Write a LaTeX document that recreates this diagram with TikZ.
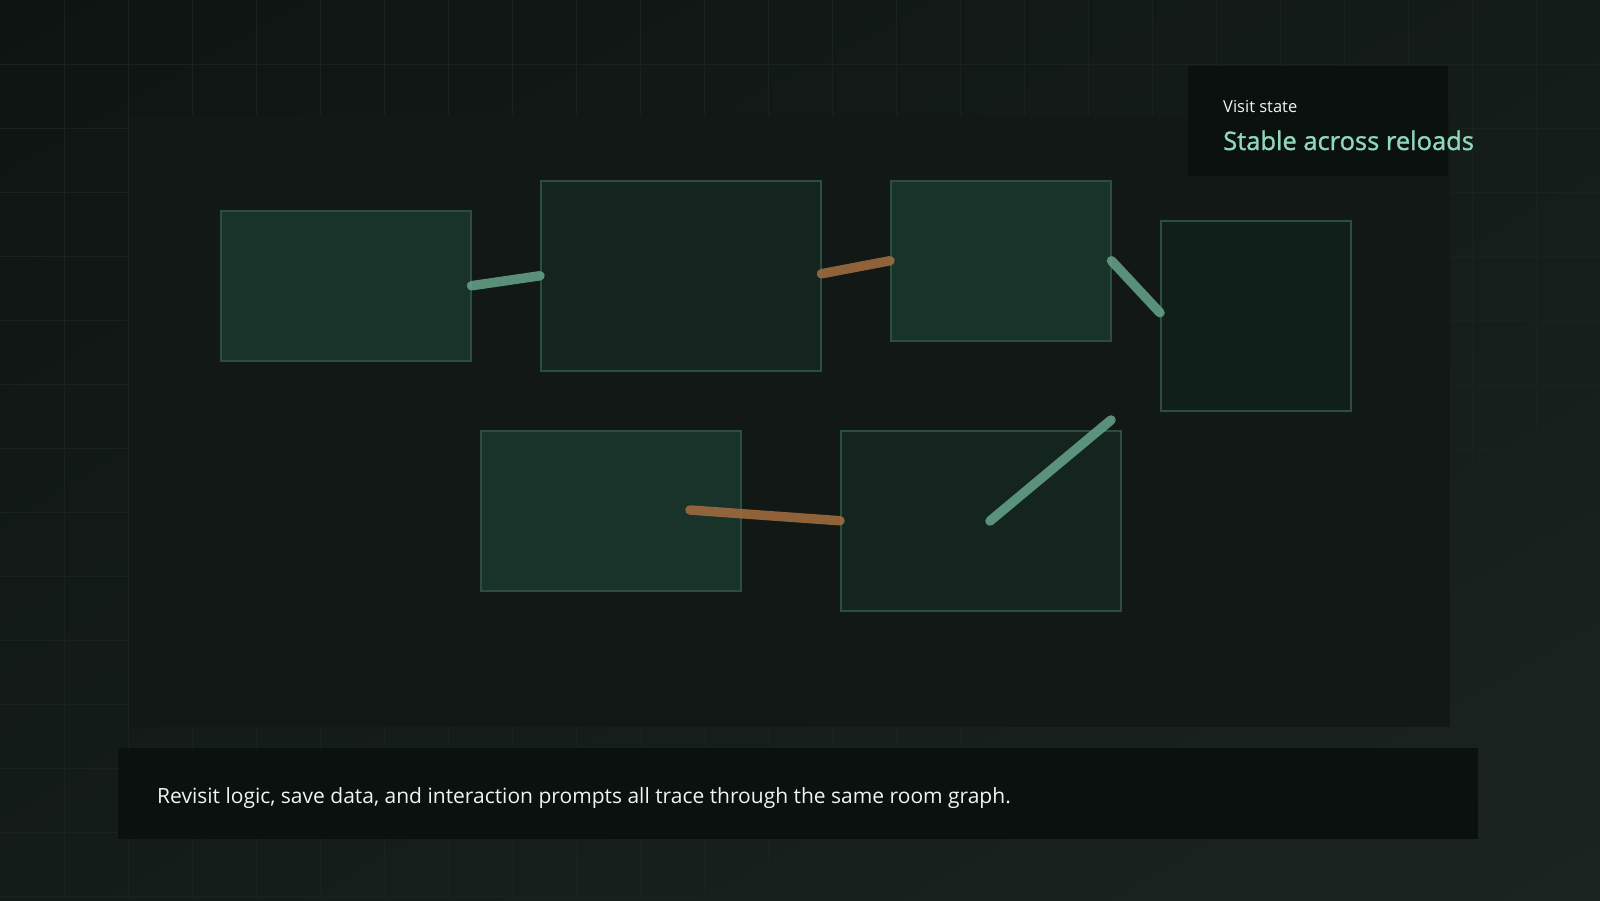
\documentclass[tikz,border=0pt]{standalone}
\usepackage{fontspec}
\setmainfont{Open Sans}
\newfontfamily\strongfont[FakeBold=1.2]{Open Sans}
\usetikzlibrary{positioning,shadings}

\definecolor{bgdark}{HTML}{0E1412}
\definecolor{bglight}{HTML}{1B2420}
\definecolor{bgmid}{HTML}{141C19}
\definecolor{gridline}{HTML}{18221E}
\definecolor{panel}{HTML}{111816}
\definecolor{cardbg}{HTML}{0B110F}
\definecolor{roomline}{HTML}{2C4D42}
\definecolor{roomlight}{HTML}{19322A}
\definecolor{roomdark}{HTML}{14251F}
\definecolor{roomdeep}{HTML}{111F1B}
\definecolor{linkgreen}{HTML}{629E85}
\definecolor{linkorange}{HTML}{9E6B3D}
\definecolor{mint}{HTML}{8FD8BA}
\definecolor{softwhite}{HTML}{F0F4F2}

\begin{document}
\begin{tikzpicture}[
          x=1pt, y=-1pt,
          room/.style={rectangle, draw=roomline, line width=1.5pt, anchor=north west, inner sep=0pt},
          link/.style={line width=9.5pt, line cap=round, opacity=0.9},
          every node/.style={font=\fontsize{21}{25}\selectfont}
        ]
        \useasboundingbox (0,0) rectangle (1600,900);

        % backdrop
        \shade[upper left=bgdark, lower right=bglight, upper right=bgmid, lower left=bgmid]
            (0,0) rectangle (1600,900);
        \foreach \g in {64,128,...,1600}
            \draw[gridline, line width=1pt] (\g,0) -- (\g,900);
        \foreach \g in {64,128,...,896}
            \draw[gridline, line width=1pt] (0,\g) -- (1600,\g);
        \fill[panel] (129,115) rectangle (1450,727);

        % rooms
        \node[room, fill=roomlight, minimum width=250pt, minimum height=150pt] (entry) at (220,210) {};
        \node[room, fill=roomdark, minimum width=280pt, minimum height=190pt] (hall) at (540,180) {};
        \node[room, fill=roomlight, minimum width=220pt, minimum height=160pt] (archive) at (890,180) {};
        \node[room, fill=roomdeep, minimum width=190pt, minimum height=190pt] (vault) at (1160,220) {};
        \node[room, fill=roomlight, minimum width=260pt, minimum height=160pt] (cellar) at (480,430) {};
        \node[room, fill=roomdark, minimum width=280pt, minimum height=180pt] (gallery) at (840,430) {};

        \coordinate (cellarlink) at (690,510);
        \coordinate (galleryfrom) at (990,521);
        \coordinate (galleryto) at (1111,420);

        % links
        \draw[link, linkgreen] (entry.east) -- (hall.west);
        \draw[link, linkorange] ([yshift=2pt]hall.east) -- (archive.west);
        \draw[link, linkgreen] (archive.east) -- ([yshift=3pt]vault.west);
        \draw[link, linkorange] (cellarlink) -- (gallery.west);
        \draw[link, linkgreen] (galleryfrom) -- (galleryto);

        % visit state card
        \fill[cardbg] (1188,66) rectangle (1448,176);
        \node[anchor=base west, inner sep=0pt, text=softwhite, font=\fontsize{16.5}{20}\selectfont] (visitlabel) at (1223,112) {Visit state};
        \node[anchor=base west, inner sep=0pt, text=mint, font=\strongfont\fontsize{25.5}{30}\selectfont] (visitvalue) at (1223,150) {Stable across reloads};

        % caption
        \fill[cardbg] (118,748) rectangle (1478,839);
        \node[anchor=base west, inner sep=0pt, text=softwhite] (caption) at (157,803)
            {Revisit logic, save data, and interaction prompts all trace through the same room graph.};

        \end{tikzpicture}
\end{document}
